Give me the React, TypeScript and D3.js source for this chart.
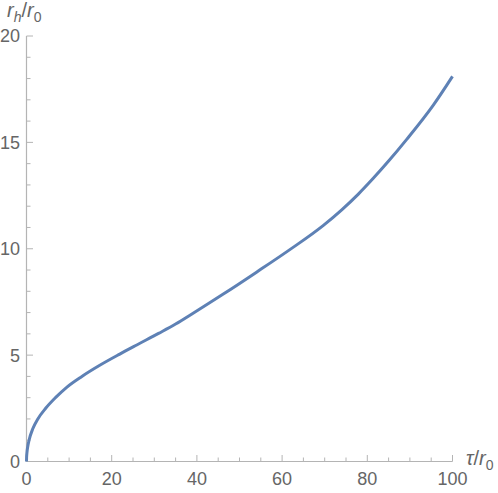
import React, { useEffect, useRef } from 'react';
import * as d3 from 'd3';

// curve r_h/r_0 vs tau/r_0
const tauValues = [0, 0.02, 0.1, 0.3, 0.6, 1.5, 2.66, 4.5, 6.8, 9.5, 13, 17, 21.9, 26, 31, 35, 39.2, 46.2, 54, 61.9, 69.7, 74, 77.9, 81.4, 85, 89.25, 95.5, 100];
const rhValues = [0, 0.18, 0.41, 0.71, 1.0, 1.55, 2.0, 2.5, 3.0, 3.5, 4.0, 4.5, 5.05, 5.49, 6.02, 6.46, 6.98, 7.87, 8.9, 9.97, 11.1, 11.83, 12.57, 13.31, 14.12, 15.14, 16.75, 18.1];

const xTicks = [0, 20, 40, 60, 80, 100];
const yTicks = [0, 5, 10, 15, 20];

const App = () => {
  const chartRef = useRef<HTMLDivElement>(null);

  useEffect(() => {
    drawChart();
  }, []);

  const drawChart = () => {
    const width = 498;
    const height = 493;
    const axisColor = '#b4b4b4';
    const labelColor = '#666666';
    const font = '"Liberation Sans", Arial, sans-serif';

    d3.select(chartRef.current).select('svg').remove();

    const svg = d3.select(chartRef.current)
      .append('svg')
      .attr('width', width)
      .attr('height', height)
      .style('position', 'absolute')
      .style('left', 0)
      .style('top', 0)
      .style('font-family', font);

    const x = d3.scaleLinear().domain([0, 100]).range([26.5, 452.5]);
    const y = d3.scaleLinear().domain([0, 20]).range([461.5, 36]);

    // minor + major ticks
    const xMinor = d3.range(0, 101, 5);
    const yMinor = d3.range(0, 21, 1);

    svg.selectAll('.xtick')
      .data(xMinor)
      .enter()
      .append('line')
      .attr('x1', d => x(d))
      .attr('x2', d => x(d))
      .attr('y1', y(0))
      .attr('y2', d => y(0) - (d % 20 === 0 ? 6.5 : 4))
      .style('stroke', axisColor)
      .style('stroke-width', 1);

    svg.selectAll('.ytick')
      .data(yMinor)
      .enter()
      .append('line')
      .attr('y1', d => y(d))
      .attr('y2', d => y(d))
      .attr('x1', x(0))
      .attr('x2', d => x(0) + (d % 5 === 0 ? 6.5 : 4))
      .style('stroke', axisColor)
      .style('stroke-width', 1);

    // axis lines
    svg.append('line')
      .attr('x1', x(0)).attr('x2', x(100))
      .attr('y1', y(0)).attr('y2', y(0))
      .style('stroke', axisColor)
      .style('stroke-width', 1.2);
    svg.append('line')
      .attr('x1', x(0)).attr('x2', x(0))
      .attr('y1', y(0)).attr('y2', y(20))
      .style('stroke', axisColor)
      .style('stroke-width', 1.2);

    // tick labels
    svg.selectAll('.xlabel')
      .data(xTicks)
      .enter()
      .append('text')
      .attr('x', d => x(d))
      .attr('y', 485)
      .attr('text-anchor', 'middle')
      .style('font-size', '18px')
      .style('fill', labelColor)
      .text(d => d);

    svg.selectAll('.ylabel')
      .data(yTicks)
      .enter()
      .append('text')
      .attr('x', 20)
      .attr('y', d => y(d))
      .attr('dy', '0.36em')
      .attr('text-anchor', 'end')
      .style('font-size', '18px')
      .style('fill', labelColor)
      .text(d => d);

    // axis titles
    const yTitle = svg.append('text')
      .attr('x', 7)
      .attr('y', 17)
      .style('font-size', '20px')
      .style('fill', labelColor);
    yTitle.append('tspan').style('font-style', 'italic').text('r');
    yTitle.append('tspan').attr('dy', 5).style('font-style', 'italic').style('font-size', '14px').text('h');
    yTitle.append('tspan').attr('dy', -5).text('/');
    yTitle.append('tspan').style('font-style', 'italic').text('r');
    yTitle.append('tspan').attr('dy', 5).style('font-size', '14px').text('0');

    const xTitle = svg.append('text')
      .attr('x', 466)
      .attr('y', 465)
      .style('font-size', '20px')
      .style('fill', labelColor);
    xTitle.append('tspan').style('font-style', 'italic').text('τ');
    xTitle.append('tspan').text('/');
    xTitle.append('tspan').style('font-style', 'italic').text('r');
    xTitle.append('tspan').attr('dy', 5).style('font-size', '14px').text('0');

    // the curve
    const points = tauValues.map((t, i) => [t, rhValues[i]] as [number, number]);
    const line = d3.line<[number, number]>()
      .x(d => x(d[0]))
      .y(d => y(d[1]))
      .curve(d3.curveMonotoneX);

    svg.append('path')
      .attr('d', line(points))
      .style('fill', 'none')
      .style('stroke', '#5e81b5')
      .style('stroke-width', 3);
  };

  return (
    <div ref={chartRef}></div>
  );
};

export default App;
